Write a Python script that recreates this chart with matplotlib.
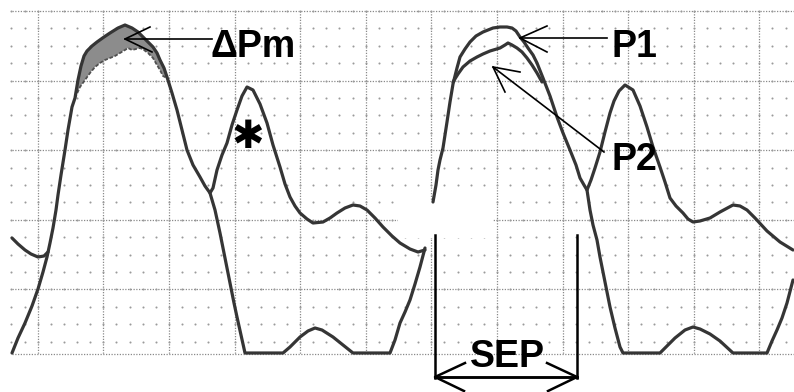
import numpy as np
import matplotlib
matplotlib.use("Agg")
import matplotlib.pyplot as plt

# trace points, pixel units (x right, y down)
# ventricular trace, left beat up to the gap before the right upstroke
lv1_x = [12, 18, 25, 32, 38, 43, 47, 50, 53, 56, 58, 61, 65, 68, 72, 75, 78,
         81, 84, 87, 92, 97, 104, 110, 118, 125, 132, 138, 143, 148, 153, 157,
         160, 164, 167, 172, 177, 182, 187, 193, 200, 205, 210, 215, 220, 225,
         230, 234, 237, 241, 245, 283, 290, 300, 308, 315, 322, 333, 343, 353,
         390, 395, 400, 405, 410, 415, 420, 425]
lv1_y = [353, 338, 323, 306, 289, 272, 257, 243, 228, 210, 195, 175, 150, 130,
         107, 98, 80, 66, 56, 51, 46, 42, 37, 33, 28, 25, 28, 32, 37, 42, 47,
         53, 60, 68, 77, 93, 110, 130, 150, 165, 177, 186, 193, 210, 233, 258,
         283, 303, 317, 335, 353, 353, 347, 337, 331, 328, 330, 337, 345, 353,
         353, 340, 323, 312, 300, 284, 267, 248]

# right beat upstroke, P1 envelope, fall, bottom bump
lv2_x = [433, 436, 438, 440, 443, 447, 450, 453, 457, 460, 465, 470, 476, 483,
         493, 500, 507, 512, 516, 520, 524, 528, 533, 537, 543, 550, 557, 563,
         570, 576, 580, 584, 587, 590, 593, 597, 600, 605, 610, 615, 620, 623,
         660, 667, 675, 685, 693, 700, 710, 720, 733, 767, 772, 777, 782, 787,
         793]
lv2_y = [202, 185, 170, 160, 148, 122, 102, 84, 68, 57, 49, 42, 36, 32, 28,
         27, 27, 28, 31, 37, 42, 48, 55, 63, 78, 96, 117, 133, 150, 165, 178,
         185, 190, 210, 225, 240, 257, 282, 307, 328, 347, 353, 353, 346, 338,
         330, 327, 329, 334, 341, 353, 353, 341, 330, 318, 303, 280]

# P2: lower envelope of the right beat
p2_x = [453, 458, 463, 470, 477, 483, 490, 500, 505, 508, 512, 517, 522, 527,
        532, 537, 542]
p2_y = [82, 74, 67, 61, 57, 54, 51, 48, 45, 43, 45, 48, 52, 58, 65, 73, 82]

# pressure trace before the left upstroke
ao0_x = [12, 18, 25, 31, 38, 44, 48]
ao0_y = [238, 244, 250, 254, 257, 256, 252]

# lower edge of the shaded dPm band
dpm_x = [75, 80, 85, 90, 95, 100, 105, 110, 115, 120, 125, 128, 132, 136, 140,
         144, 148, 153, 157, 160, 163, 167]
dpm_y = [98, 87, 80, 73, 67, 63, 60, 58, 56, 53, 50, 48, 50, 49, 48, 50, 53,
         58, 65, 70, 76, 78]

# pressure trace from left notch through * wave to the gap
ao1_x = [210, 213, 217, 222, 227, 232, 237, 242, 247, 253, 260, 267, 273, 280,
         285, 290, 295, 300, 307, 313, 323, 330, 337, 345, 353, 360, 367, 375,
         383, 392, 400, 410, 418, 425]
ao1_y = [193, 188, 170, 155, 143, 125, 110, 96, 87, 90, 104, 123, 145, 167,
         184, 197, 206, 213, 219, 223, 222, 218, 213, 208, 205, 206, 210, 218,
         227, 236, 243, 249, 252, 250]

# pressure trace from right notch to the right edge
ao2_x = [587, 591, 595, 600, 605, 610, 614, 619, 625, 633, 640, 647, 653, 660,
         665, 670, 676, 683, 688, 693, 700, 710, 720, 733, 740, 747, 755, 767,
         780, 793]
ao2_y = [190, 180, 168, 152, 132, 113, 101, 91, 85, 90, 106, 127, 147, 167,
         182, 198, 206, 213, 219, 222, 221, 218, 212, 205, 206, 210, 218, 231,
         242, 250]

W, H = 794, 392
trace_col = "#353535"
grid_col = "#8a8a8a"

fig = plt.figure(figsize=(W / 100, H / 100), dpi=100)
ax = fig.add_axes([0, 0, 1, 1])
ax.set_xlim(0, W)
ax.set_ylim(H, 0)
ax.axis("off")

# recorder paper grid
gx0, gx1, gy0, gy1 = 12, 794, 11, 354
major_x = np.arange(37.7, gx1, 65.6)
major_y = np.arange(gy0, gy1, 69.6)
for xv in major_x:
    ax.plot([xv, xv], [gy0, gy1], color=grid_col, lw=0.9,
            ls=(0, (1, 1.2)), zorder=1)
for yv in list(major_y) + [gy1]:
    ax.plot([gx0, gx1], [yv, yv], color=grid_col, lw=0.9,
            ls=(0, (1, 1.2)), zorder=1)
minor_x = np.arange(37.7 - 2 * 13.12, gx1, 13.12)
minor_x = minor_x[minor_x >= gx0 - 1]
minor_y = np.arange(gy0, gy1, 17.4)
mx, my = np.meshgrid(minor_x, minor_y)
ax.scatter(mx.ravel(), my.ravel(), s=2.2, color="#9a9a9a", lw=0, zorder=1)

# faded patch of the scan
ax.add_patch(plt.Rectangle((398, 200), 95, 38, color="white", lw=0, zorder=1.5))

# shaded dPm band
up_x = lv1_x[15:35]
up_y = lv1_y[15:35]
ax.fill(up_x + dpm_x[::-1], up_y + dpm_y[::-1], color="#8c8c8c", lw=0, zorder=2)
ax.plot(dpm_x, dpm_y, color="#505050", lw=1.3, ls=(0, (2, 1)), zorder=3)

for xs, ys in [(lv1_x, lv1_y), (lv2_x, lv2_y), (p2_x, p2_y), (ao0_x, ao0_y),
               (ao1_x, ao1_y), (ao2_x, ao2_y)]:
    ax.plot(xs, ys, color=trace_col, lw=2.3, solid_joinstyle="round",
            solid_capstyle="round", zorder=4)


def arrow(tip, tail, h1, h2, lw=1.2):
    ax.plot([tail[0], tip[0]], [tail[1], tip[1]], color="black", lw=lw, zorder=6)
    ax.plot([h1[0], tip[0], h2[0]], [h1[1], tip[1], h2[1]], color="black",
            lw=lw, zorder=6)


lab = dict(family=["Liberation Sans", "DejaVu Sans"], weight="bold",
           fontsize=27, color="black", ha="left", va="baseline", zorder=7)

arrow((125, 39), (212, 39), (150, 27), (152, 52))
ax.text(211, 57, "\u0394Pm", **lab)

arrow((520, 38), (607, 38), (547, 26), (547, 52))
ax.text(611, 57, "P1", **lab)

arrow((493, 67), (604, 152), (520, 72), (505, 92))
ax.text(611, 170, "P2", **lab)

ax.text(248, 137, "\u2731", family=["DejaVu Sans"], fontsize=28,
        ha="center", va="center", zorder=7)

# SEP bracket
ax.plot([435, 435], [235, 378], color="black", lw=1.8, zorder=6)
ax.plot([577, 577], [235, 378], color="black", lw=1.8, zorder=6)
arrow((435, 377), (577, 377), (465, 363), (464, 391), lw=1.8)
arrow((577, 377), (435, 377), (547, 363), (548, 391), lw=1.8)
ax.text(470, 367, "SEP", **lab)

fig.savefig("out.png", dpi=100, facecolor="white")
